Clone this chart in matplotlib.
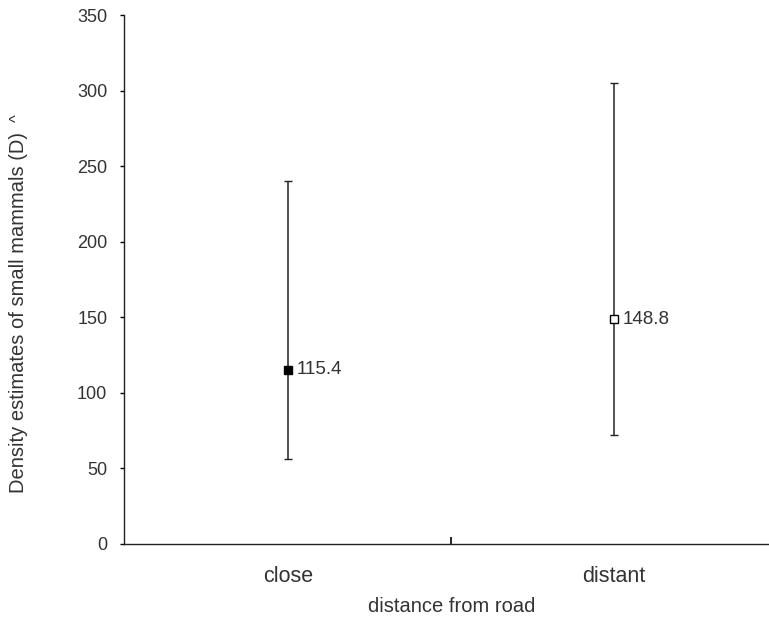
import matplotlib

matplotlib.use("Agg")
import matplotlib.pyplot as plt

# Density estimates with 95% confidence limits.
categories = ["close", "distant"]
estimates = [115.4, 148.8]
lower_ci = [56, 72]
upper_ci = [240, 305]
point_labels = ["115.4", "148.8"]
marker_faces = ["black", "white"]
y_ticks = [0, 50, 100, 150, 200, 250, 300, 350]

plt.rcParams["font.family"] = ["Liberation Sans", "DejaVu Sans"]
TEXT = "#333333"

fig = plt.figure(figsize=(7.69, 6.23), dpi=100)
ax = fig.add_axes([124 / 769, 79 / 623, 645 / 769, 529 / 623])

xs = list(range(len(categories)))
for x, est, lo, hi, face, lab in zip(xs, estimates, lower_ci, upper_ci,
                                      marker_faces, point_labels):
    ax.errorbar(x, est, yerr=[[est - lo], [hi - est]], fmt="s",
                color="black", ecolor="#222222", elinewidth=1.1,
                capsize=3.2, capthick=1.1, markersize=6,
                markerfacecolor=face, markeredgecolor="black",
                markeredgewidth=1.0, zorder=3)
    ax.annotate(lab, (x, est), xytext=(6, 0), textcoords="offset points",
                ha="left", va="center", fontsize=13.5, color=TEXT)

ax.set_xlim(-0.503, 1.475)
ax.set_ylim(0, 350)
ax.set_yticks(y_ticks)
ax.set_yticklabels([str(v) for v in y_ticks], fontsize=13, color=TEXT)
ax.tick_params(axis="y", direction="out", length=3, width=1, pad=9)

# Category labels without ticks, single inward tick between groups.
ax.set_xticks([0.5])
ax.set_xticklabels([""])
ax.tick_params(axis="x", direction="in", length=5, width=1.2)
for x, name in zip(xs, categories):
    ax.text(x, -21.5, name, ha="center", va="center", fontsize=15.5,
            color=TEXT, transform=ax.transData, clip_on=False)
fig.text(452 / 769, 1 - 606 / 623, "distance from road", ha="center",
         va="center", fontsize=14.5, color=TEXT)

for side in ("top", "right"):
    ax.spines[side].set_visible(False)
for side in ("left", "bottom"):
    ax.spines[side].set_linewidth(1.0)
    ax.spines[side].set_color("#222222")

fig.text(19 / 769, 1 - 312 / 623, "Density estimates of small mammals (D)",
         rotation=90, ha="center", va="center", fontsize=14.5, color=TEXT)
fig.text(17 / 769, 1 - 118 / 623, "^", rotation=90, ha="center",
         va="center", fontsize=12, color=TEXT)

fig.savefig("out.png", dpi=100)
